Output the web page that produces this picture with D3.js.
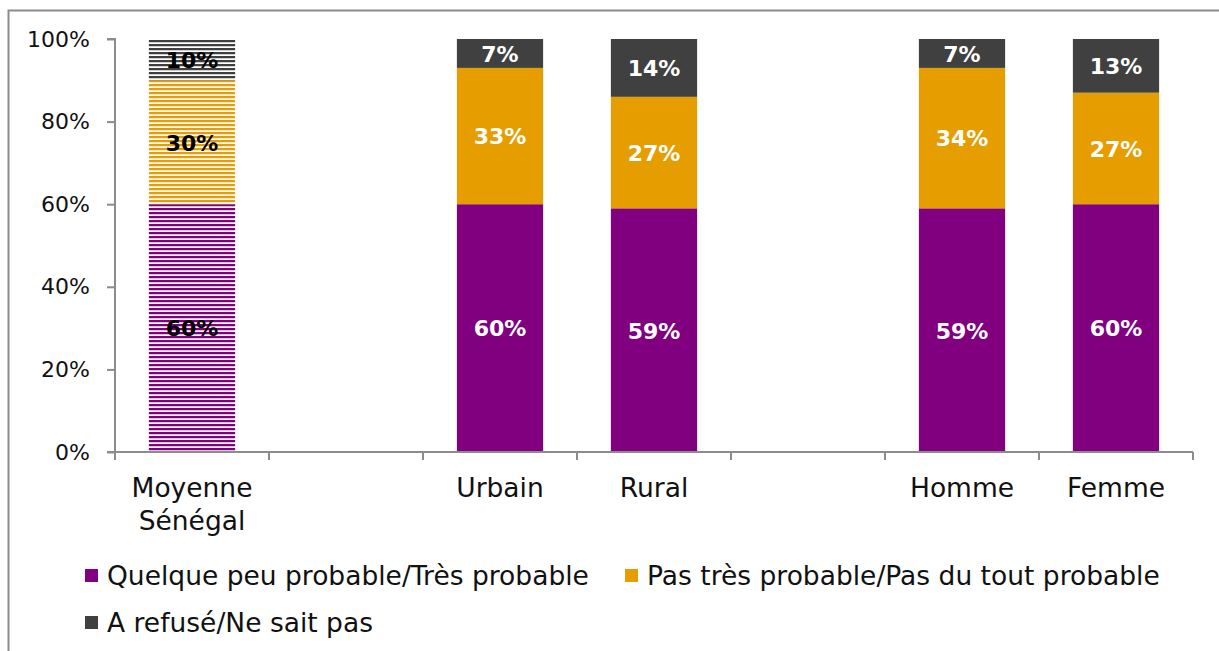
<!DOCTYPE html>
<html>
<head>
<meta charset="utf-8">
<script src="https://cdn.jsdelivr.net/npm/d3@7"></script>
<style>
  html, body { margin: 0; padding: 0; background: #fff; }
  svg { display: block; font-family: "DejaVu Sans", sans-serif; }
</style>
</head>
<body>
<svg id="chart" width="1219" height="651"></svg>
<script>
// Category slots (empty strings are spacer slots between groups)
const categories = ["Moyenne Sénégal", "", "Urbain", "Rural", "", "Homme", "Femme"];
const seriesNames = ["Quelque peu probable/Très probable", "Pas très probable/Pas du tout probable", "A refusé/Ne sait pas"];
const seriesColors = ["#800080", "#E69D00", "#404040"];
const probable   = [60, null, 60, 59, null, 59, 60];
const pasProbable = [30, null, 33, 27, null, 34, 27];
const refuse     = [10, null, 7, 14, null, 7, 13];
const yTicks = [0, 20, 40, 60, 80, 100];
const hatchedCategory = "Moyenne Sénégal";

const svg = d3.select("#chart");

// Outer frame
svg.append("rect")
  .attr("x", 8.5).attr("y", 10.5)
  .attr("width", 1400).attr("height", 800)
  .attr("fill", "none").attr("stroke", "#8c8c8c").attr("stroke-width", 2);

const plot = { left: 115, right: 1193, top: 39, bottom: 452 };

const x = d3.scaleBand()
  .domain(categories.map((c, i) => i))
  .range([plot.left, plot.right])
  .paddingInner(0.44)
  .paddingOuter(0.22);

const y = d3.scaleLinear().domain([0, 100]).range([plot.bottom, plot.top]);

// Horizontal-line hatch patterns for the national average bar
const defs = svg.append("defs");
seriesColors.forEach((c, i) => {
  const p = defs.append("pattern")
    .attr("id", "hatch" + i)
    .attr("patternUnits", "userSpaceOnUse")
    .attr("width", 8).attr("height", 4);
  p.append("rect").attr("width", 8).attr("height", 4).attr("fill", "#fff");
  p.append("rect").attr("width", 8).attr("height", 2).attr("fill", c);
  p.append("rect").attr("y", 2).attr("width", 8).attr("height", 1).attr("fill", c).attr("opacity", 0.25);
});

const rows = categories.map((c, i) => ({
  cat: c, idx: i,
  values: [probable[i], pasProbable[i], refuse[i]]
})).filter(r => r.values[0] !== null);

const stack = d3.stack().keys([0, 1, 2]).value((d, k) => d.values[k]);
const layers = stack(rows);

layers.forEach((layer, k) => {
  layer.forEach(seg => {
    const r = seg.data;
    const hatched = r.cat === hatchedCategory;
    svg.append("rect")
      .attr("x", x(r.idx))
      .attr("width", x.bandwidth())
      .attr("y", y(seg[1]))
      .attr("height", y(seg[0]) - y(seg[1]))
      .attr("fill", hatched ? `url(#hatch${k})` : seriesColors[k]);
    svg.append("text")
      .attr("x", x(r.idx) + x.bandwidth() / 2)
      .attr("y", y((seg[0] + seg[1]) / 2))
      .attr("dy", "0.38em")
      .attr("text-anchor", "middle")
      .attr("font-size", 22)
      .attr("font-weight", "bold")
      .attr("fill", hatched ? "#000" : "#fff")
      .text(r.values[k] + "%");
  });
});

// Y axis
const yAxis = svg.append("g")
  .attr("transform", `translate(${plot.left},0)`)
  .call(d3.axisLeft(y).tickValues(yTicks).tickFormat(d => d + "%").tickSize(8).tickPadding(17));
yAxis.selectAll("path, line").attr("stroke", "#8c8c8c").attr("stroke-width", 2);
yAxis.select(".domain").attr("d", `M-8,${plot.top}H0V${plot.bottom}`);
yAxis.selectAll("text").attr("font-size", 22).attr("fill", "#111").attr("font-family", "DejaVu Sans");

// X axis line with boundary ticks between slots
const xg = svg.append("g");
xg.append("line")
  .attr("x1", plot.left - 8).attr("x2", plot.right)
  .attr("y1", plot.bottom).attr("y2", plot.bottom)
  .attr("stroke", "#8c8c8c").attr("stroke-width", 2);
d3.range(categories.length + 1).forEach(i => {
  const bx = plot.left + i * (plot.right - plot.left) / categories.length;
  xg.append("line")
    .attr("x1", bx).attr("x2", bx)
    .attr("y1", plot.bottom).attr("y2", plot.bottom + 8)
    .attr("stroke", "#8c8c8c").attr("stroke-width", 2);
});
categories.forEach((c, i) => {
  if (!c) return;
  const cx = x(i) + x.bandwidth() / 2;
  const words = c === hatchedCategory ? c.split(" ") : [c];
  const t = xg.append("text")
    .attr("x", cx).attr("y", 497)
    .attr("text-anchor", "middle")
    .attr("font-size", 26.5).attr("fill", "#111");
  words.forEach((w, j) => {
    t.append("tspan").attr("x", cx).attr("dy", j === 0 ? 0 : 33).text(w);
  });
});

// Legend
const legendItems = [
  { name: seriesNames[0], color: seriesColors[0], x: 85, y: 575 },
  { name: seriesNames[1], color: seriesColors[1], x: 625, y: 575 },
  { name: seriesNames[2], color: seriesColors[2], x: 85, y: 622 }
];
legendItems.forEach(d => {
  svg.append("rect")
    .attr("x", d.x).attr("y", d.y - 6)
    .attr("width", 13).attr("height", 13)
    .attr("fill", d.color);
  svg.append("text")
    .attr("x", d.x + 22).attr("y", d.y)
    .attr("dy", "0.36em")
    .attr("font-size", 26.5).attr("fill", "#111")
    .text(d.name);
});
</script>
</body>
</html>
